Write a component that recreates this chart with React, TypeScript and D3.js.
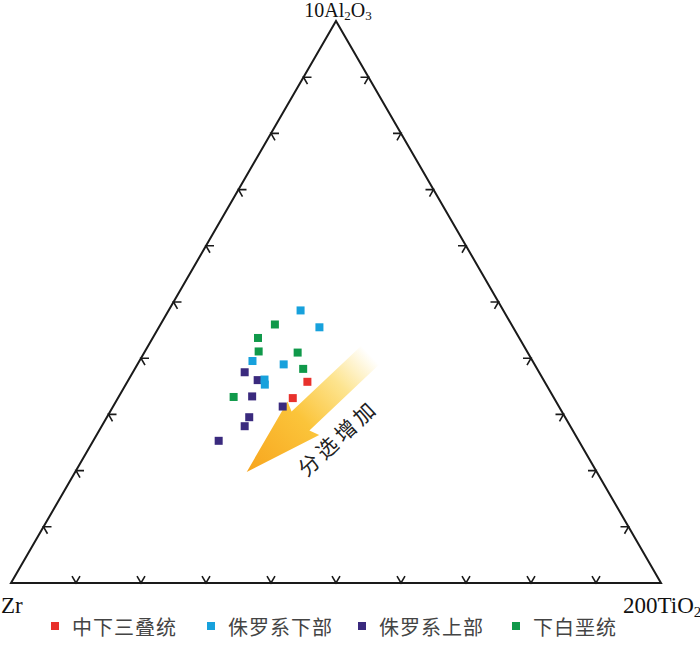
import React from "react";
import * as d3 from "d3";

// ---- data (ternary compositions in percent: [Al2O3, TiO2, Zr]) ----
const seriesNames = ["中下三叠统", "侏罗系下部", "侏罗系上部", "下白垩统"];
const seriesColors = ["#e8312c", "#17a1dc", "#3a2a7e", "#10994a"];

const middleLowerTriassic = [
  [35.8, 27.7, 36.5],
  [32.9, 26.9, 40.2],
];
const lowerJurassic = [
  [48.5, 20.3, 31.2],
  [45.5, 24.7, 29.8],
  [39.5, 17.4, 43.1],
  [38.9, 22.5, 38.6],
  [36.2, 20.9, 42.9],
  [35.3, 21.4, 43.3],
];
const upperJurassic = [
  [37.5, 17.2, 45.3],
  [36.1, 19.9, 44.0],
  [33.2, 20.5, 46.3],
  [31.4, 26.1, 42.5],
  [29.5, 21.9, 48.6],
  [27.9, 22.0, 50.1],
  [25.3, 19.3, 55.4],
];
const lowerCretaceous = [
  [46.0, 17.6, 36.4],
  [43.6, 16.2, 40.2],
  [41.2, 17.5, 41.3],
  [41.0, 23.6, 35.4],
  [38.1, 25.9, 36.0],
  [33.1, 17.7, 49.2],
];
const seriesData = [middleLowerTriassic, lowerJurassic, upperJurassic, lowerCretaceous];
const drawOrder = [2, 1, 3, 0];
const tickValues = [10, 20, 30, 40, 50, 60, 70, 80, 90];
const arrowLabel = "分选增加";

// ---- layout ----
const W = 700;
const H = 660;
const x = d3.scaleLinear().domain([0, 100]).range([11, 661]);
const y = d3.scaleLinear().domain([0, 100]).range([583, 21]);

function project(al: number, ti: number) {
  return [x(ti + al / 2), y(al)];
}

const A = project(0, 0); // Zr
const B = project(0, 100); // TiO2
const C = project(100, 0); // Al2O3

const S3 = Math.sqrt(3) / 2;
const tickLen = 8;

function tickPath(p0: number[], p1: number[], d1: number[], d2: number[]) {
  const path = d3.path();
  tickValues.forEach((v) => {
    const f = v / 100;
    const px = p0[0] + (p1[0] - p0[0]) * f;
    const py = p0[1] + (p1[1] - p0[1]) * f;
    path.moveTo(px + d1[0] * tickLen, py + d1[1] * tickLen);
    path.lineTo(px, py);
    path.lineTo(px + d2[0] * tickLen, py + d2[1] * tickLen);
  });
  return path.toString();
}

export default function App() {
  const tri = d3.line()([A, B, C]) + "Z";
  const ticks =
    tickPath(A, B, [-0.5, -S3], [0.5, -S3]) +
    tickPath(A, C, [1, 0], [0.5, S3]) +
    tickPath(B, C, [-1, 0], [-0.5, S3]);

  // arrow (local coords: x along the axis from tip to tail)
  const tip = project(19.77, 26.38);
  const angle = -43.4;
  const L = 170;
  const hl = 78;
  const hw = 23;
  const sw = 13;
  const arrowPts: [number, number][] = [
    [0, 0],
    [hl, -hw],
    [hl - 4, -sw],
    [L, -sw],
    [L, sw],
    [hl - 4, sw],
    [hl, hw],
  ];
  const arrowD = d3.line()(arrowPts) + "Z";

  const sq = 8;
  const legendY = 626;
  const legendX = [51, 207, 358, 512];

  return (
    <svg
      width={W}
      height={H}
      style={{ position: "absolute", left: 0, top: 0, background: "#fff" }}
    >
      <defs>
        <linearGradient id="arrowGrad" gradientUnits="userSpaceOnUse" x1={0} y1={0} x2={L} y2={0}>
          <stop offset="0" stopColor="#f7a51e" />
          <stop offset="0.45" stopColor="#fbc43a" />
          <stop offset="0.75" stopColor="#fde48f" />
          <stop offset="1" stopColor="#ffffff" />
        </linearGradient>
      </defs>

      {/* arrow */}
      <g transform={`translate(${tip[0]},${tip[1]}) rotate(${angle})`}>
        <path d={arrowD} fill="url(#arrowGrad)" />
      </g>

      {/* triangle */}
      <path d={tri} fill="none" stroke="#1a1a1a" strokeWidth={2} strokeLinejoin="miter" />
      <path d={ticks} fill="none" stroke="#1a1a1a" strokeWidth={1.6} />

      {/* points */}
      {drawOrder.map((si) => (
        <g key={si}>
          {seriesData[si].map((d, i) => {
            const [px, py] = project(d[0], d[1]);
            return (
              <rect
                key={i}
                x={px - sq / 2}
                y={py - sq / 2}
                width={sq}
                height={sq}
                fill={seriesColors[si]}
              />
            );
          })}
        </g>
      ))}

      {/* arrow label */}
      <text
        transform={`translate(337,437) rotate(-43)`}
        textAnchor="middle"
        dominantBaseline="central"
        fontFamily="'Noto Sans CJK SC', sans-serif"
        fontSize={21}
        letterSpacing={4}
        fill="#222"
      >
        {arrowLabel}
      </text>

      {/* vertex labels */}
      <text x={338} y={17} textAnchor="middle" fontFamily="'Liberation Serif', serif" fontSize={20} fill="#111">
        10Al<tspan fontSize={13} dy={3}>2</tspan>
        <tspan dy={-3}>O</tspan>
        <tspan fontSize={13} dy={3}>3</tspan>
      </text>
      <text x={1} y={613} fontFamily="'Liberation Serif', serif" fontSize={23} fill="#111">
        Zr
      </text>
      <text x={623} y={613} fontFamily="'Liberation Serif', serif" fontSize={23} fill="#111">
        200TiO<tspan fontSize={15} dy={4}>2</tspan>
      </text>

      {/* legend */}
      {seriesNames.map((name, i) => (
        <g key={name}>
          <rect x={legendX[i]} y={legendY - 4} width={8} height={8} fill={seriesColors[i]} />
          <text
            x={legendX[i] + 21}
            y={legendY}
            dominantBaseline="central"
            fontFamily="'Noto Sans CJK SC', sans-serif"
            fontSize={20}
            letterSpacing={1}
            fill="#444"
          >
            {name}
          </text>
        </g>
      ))}
    </svg>
  );
}
